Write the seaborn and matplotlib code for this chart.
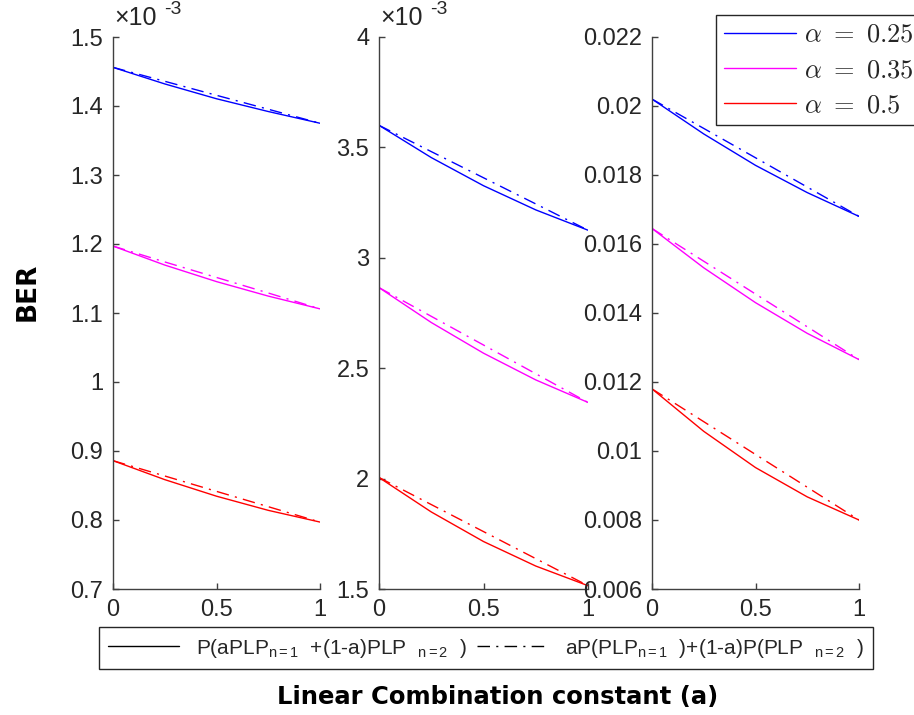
import matplotlib
matplotlib.use("Agg")
import matplotlib.pyplot as plt
import seaborn as sns
import numpy as np
from matplotlib.lines import Line2D
from matplotlib.ticker import FuncFormatter, MultipleLocator
from matplotlib.font_manager import FontProperties

# ---------------- data ----------------
a_vals = [0.0, 0.25, 0.5, 0.75, 1.0]
alpha_labels = [r"$\alpha\ =\ 0.25$", r"$\alpha\ =\ 0.35$", r"$\alpha\ =\ 0.5$"]
colors = ["#0000ff", "#ff00ff", "#ff0000"]

# Panel 1 (BER)
p1_solid_025 = [1.456e-3, 1.432e-3, 1.4105e-3, 1.392e-3, 1.375e-3]
p1_solid_035 = [1.197e-3, 1.1695e-3, 1.1455e-3, 1.1245e-3, 1.106e-3]
p1_solid_050 = [0.886e-3, 0.8585e-3, 0.8345e-3, 0.814e-3, 0.797e-3]
p1_dash_025 = [1.456e-3, 1.4358e-3, 1.4155e-3, 1.3953e-3, 1.375e-3]
p1_dash_035 = [1.197e-3, 1.174e-3, 1.1515e-3, 1.129e-3, 1.106e-3]
p1_dash_050 = [0.886e-3, 0.8638e-3, 0.8415e-3, 0.8193e-3, 0.797e-3]

# Panel 2
p2_solid_025 = [3.600e-3, 3.454e-3, 3.3265e-3, 3.217e-3, 3.125e-3]
p2_solid_035 = [2.865e-3, 2.707e-3, 2.568e-3, 2.447e-3, 2.345e-3]
p2_solid_050 = [2.005e-3, 1.849e-3, 1.715e-3, 1.604e-3, 1.515e-3]
p2_dash_025 = [3.600e-3, 3.481e-3, 3.3625e-3, 3.244e-3, 3.125e-3]
p2_dash_035 = [2.865e-3, 2.735e-3, 2.605e-3, 2.475e-3, 2.345e-3]
p2_dash_050 = [2.005e-3, 1.8825e-3, 1.760e-3, 1.6375e-3, 1.515e-3]

# Panel 3
p3_solid_025 = [0.0202, 0.01919, 0.01828, 0.01749, 0.0168]
p3_solid_035 = [0.01645, 0.01531, 0.0143, 0.01341, 0.01265]
p3_solid_050 = [0.0118, 0.01057, 0.00952, 0.00867, 0.0080]
p3_dash_025 = [0.0202, 0.01935, 0.0185, 0.01765, 0.0168]
p3_dash_035 = [0.01645, 0.0155, 0.01455, 0.0136, 0.01265]
p3_dash_050 = [0.0118, 0.01085, 0.0099, 0.00895, 0.0080]

panels = [
    dict(solid=[p1_solid_025, p1_solid_035, p1_solid_050],
         dash=[p1_dash_025, p1_dash_035, p1_dash_050],
         ylim=(0.7e-3, 1.5e-3), ystep=0.1e-3, scale=1e3, exp=True),
    dict(solid=[p2_solid_025, p2_solid_035, p2_solid_050],
         dash=[p2_dash_025, p2_dash_035, p2_dash_050],
         ylim=(1.5e-3, 4e-3), ystep=0.5e-3, scale=1e3, exp=True),
    dict(solid=[p3_solid_025, p3_solid_035, p3_solid_050],
         dash=[p3_dash_025, p3_dash_035, p3_dash_050],
         ylim=(0.006, 0.022), ystep=0.002, scale=1.0, exp=False),
]

legend_bottom_labels = [
    r"P(aPLP$_{\mathrm{n=1}}$  +(1-a)PLP  $_{\mathrm{n=2}}$  )",
    r"aP(PLP$_{\mathrm{n=1}}$  )+(1-a)P(PLP  $_{\mathrm{n=2}}$  )",
]

# ---------------- style ----------------
sns.set_style("white")
plt.rcParams["font.family"] = ["Liberation Sans", "DejaVu Sans"]
plt.rcParams["mathtext.fontset"] = "custom"
plt.rcParams["mathtext.rm"] = "Liberation Sans"
plt.rcParams["mathtext.it"] = "Liberation Sans:italic"
plt.rcParams["mathtext.bf"] = "Liberation Sans:bold"

W, H = 914, 715
fig = plt.figure(figsize=(W / 100, H / 100), dpi=100)

ax_px = [(113, 320), (379, 588), (652, 859)]
top_px, bot_px = 37, 589
axcol = "#404040"
DASH = (9, 4.5, 1.5, 4.5)

for (l, r), p in zip(ax_px, panels):
    ax = fig.add_axes([l / W, 1 - bot_px / H, (r - l) / W, (bot_px - top_px) / H])
    for vals, c in zip(p["solid"], colors):
        sns.lineplot(x=a_vals, y=vals, ax=ax, color=c, linewidth=1.0,
                     estimator=None, sort=False)
    for vals, c in zip(p["dash"], colors):
        sns.lineplot(x=a_vals, y=vals, ax=ax, color=c, linewidth=1.0,
                     estimator=None, sort=False)
        ax.lines[-1].set_dashes(DASH)
    ax.set_xlim(0, 1)
    ax.set_ylim(*p["ylim"])
    ax.xaxis.set_major_locator(MultipleLocator(0.5))
    ax.yaxis.set_major_locator(MultipleLocator(p["ystep"]))
    sc = p["scale"]
    ax.yaxis.set_major_formatter(FuncFormatter(lambda v, pos, sc=sc: f"{round(v * sc, 6):g}"))
    ax.xaxis.set_major_formatter(FuncFormatter(lambda v, pos: f"{v:g}"))
    for s in ["top", "right"]:
        ax.spines[s].set_visible(False)
    for s in ["left", "bottom"]:
        ax.spines[s].set_color(axcol)
        ax.spines[s].set_linewidth(1.0)
    ax.tick_params(direction="in", length=4, width=1.0, color=axcol,
                   labelsize=17, labelcolor="#262626", pad=7,
                   left=True, bottom=True)
    ax.set_xlabel("")
    ax.set_ylabel("")
    if p["exp"]:
        ax.annotate("×10", xy=(0, 1), xycoords="axes fraction",
                    xytext=(1, 5), textcoords="offset points",
                    ha="left", va="bottom", fontsize=18, color="#262626")
        ax.annotate("-3", xy=(0, 1), xycoords="axes fraction",
                    xytext=(37, 14), textcoords="offset points",
                    ha="left", va="bottom", fontsize=14, color="#262626")

# top-right legend
h_top = [Line2D([], [], color=c, linewidth=1.0) for c in colors]
leg1 = fig.legend(h_top, alpha_labels, loc="upper left",
                  bbox_to_anchor=(716 / W, 1 - 15 / H), borderaxespad=0,
                  prop=FontProperties(size=19, math_fontfamily="cm"),
                  handlelength=2.75, handletextpad=0.3, labelspacing=0.42,
                  borderpad=0.3, frameon=True, fancybox=False, framealpha=1)
leg1.get_frame().set_edgecolor("#262626")
leg1.get_frame().set_linewidth(1.0)

# bottom legend
h_bot = [Line2D([], [], color="black", linewidth=1.0),
         Line2D([], [], color="black", linewidth=1.0, dashes=DASH)]
leg2 = fig.legend(h_bot, legend_bottom_labels, loc="center",
                  bbox_to_anchor=(486 / W, 1 - 648 / H), ncol=2,
                  prop=FontProperties(family="Liberation Sans", size=15),
                  handlelength=3.4, handletextpad=0.8, columnspacing=0.5,
                  borderpad=0.45, frameon=True, fancybox=False, framealpha=1)
leg2.get_frame().set_edgecolor("#262626")
leg2.get_frame().set_linewidth(1.0)

fig.text(28 / W, 1 - 292 / H, "BER", rotation=90, ha="center", va="center",
         fontsize=19, fontweight="bold", family="DejaVu Sans", color="black")
fig.text(498 / W, 1 - 697 / H, "Linear Combination constant (a)", ha="center",
         va="center", fontsize=17.5, fontweight="bold", family="DejaVu Sans",
         color="black")

fig.savefig("out.png", dpi=100)
